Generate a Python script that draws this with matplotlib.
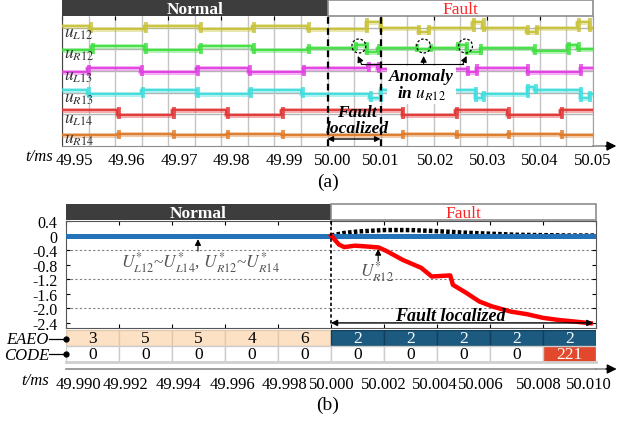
import matplotlib
matplotlib.use('Agg')
import matplotlib.pyplot as plt
import matplotlib.transforms as mtransforms
from matplotlib.patches import Rectangle, Ellipse
from matplotlib.ticker import MultipleLocator

plt.rcParams['font.family'] = ['Liberation Serif', 'DejaVu Serif']
plt.rcParams['mathtext.fontset'] = 'stix'
plt.rcParams['axes.unicode_minus'] = False

# ---------------- panel (a): sub-module voltages ----------------
ticks_a = [49.95, 49.96, 49.97, 49.98, 49.99, 50.00, 50.01, 50.02, 50.03, 50.04, 50.05]
ticklabels_a = ['49.95', '49.96', '49.97', '49.98', '49.99', '50.00',
                '50.01', '50.02', '50.03', '50.04', '50.05']
names_a = [r'$u_{L12}$', r'$u_{R12}$', r'$u_{L13}$', r'$u_{R13}$', r'$u_{L14}$', r'$u_{R14}$']
colors_a = ['#c8c23a', '#3fe03f', '#e23ee2', '#3edede', '#e23434', '#e07a28']

# step breakpoints (ms) and levels
uL12_t = [49.9500, 49.9551, 49.9655, 49.9758, 49.9858, 49.9962, 50.0072, 50.0098,
          50.0170, 50.0189, 50.0272, 50.0291, 50.0374, 50.0392, 50.0470, 50.0492]
uL12_v = [3.3, 0, 3.3, 0, 3.3, 0, 7.5, 1, -2.5, 1, 7.5, 1, -2.5, 1, 7.5, 1]
uR12_t = [49.9500, 49.9555, 49.9655, 49.9758, 49.9858, 49.9962, 50.0051, 50.0072,
          50.0094, 50.0166, 50.0192, 50.0243, 50.0260, 50.0287, 50.0387, 50.0451, 50.0470]
uR12_v = [0, 3.7, 0, 3.7, 0, 2.5, 5, -1.5, 2.5, 1.5, 2.5, 5, -1.5, 2.5, -1, 5, 1.5]
uL13_t = [49.9500, 49.9547, 49.9647, 49.9753, 49.9851, 49.9953, 50.0075, 50.0094,
          50.0262, 50.0279, 50.0375, 50.0475]
uL13_v = [0, 4, 0, 4, 0, 4, 7, 3, 0, 4.5, 0, 4.5]
uR13_t = [49.9500, 49.9547, 49.9649, 49.9753, 49.9853, 49.9951, 50.0079, 50.0098,
          50.0277, 50.0291, 50.0375, 50.0389, 50.0475, 50.0492]
uR13_v = [4, 0, 4, 0, 4, 0, -4, 4, -4, 0, 7, 4, -4, 0]
uL14_t = [49.9500, 49.9604, 49.9708, 49.9809, 49.9913, 50.0140, 50.0240, 50.0338, 50.0438]
uL14_v = [5, 0, 5, 0, 5, 0, 5, 0, 5]
uR14_t = [49.9500, 49.9604, 49.9708, 49.9809, 49.9913, 50.0140, 50.0240, 50.0338, 50.0438]
uR14_v = [0, 1.5, 0, 1.5, 0, 1.5, 0, 1.5, 0]
traces_a = [(uL12_t, uL12_v), (uR12_t, uR12_v), (uL13_t, uL13_v),
            (uR13_t, uR13_v), (uL14_t, uL14_v), (uR14_t, uR14_v)]
anomaly_t = [50.0059, 50.0181, 50.0260]

# ---------------- panel (b): normalised indices ----------------
ticks_b = [49.990, 49.992, 49.994, 49.996, 49.998, 50.000,
           50.002, 50.004, 50.006, 50.008, 50.010]
ticklabels_b = ['49.990', '49.992', '49.994', '49.996', '49.998', '50.000',
                '50.002', '50.004', '50.006', '50.008', '50.010']
yticks_b = [0.4, 0, -0.4, -0.8, -1.2, -1.6, -2.0, -2.4]
yticklabels_b = ['0.4', '0', '-0.4', '-0.8', '-1.2', '-1.6', '-2.0', '-2.4']
grid_b = [-0.4, -1.2, -2.0]

others_t = [49.990, 50.010]
others_v = [0, 0]
bump_t = [50.0000, 50.0005, 50.0010, 50.0020, 50.0030, 50.0040, 50.0050,
          50.0060, 50.0070, 50.0080, 50.0090, 50.0100]
bump_v = [0.0, 0.07, 0.11, 0.15, 0.15, 0.12, 0.08, 0.05, 0.02, 0.01, 0.0, 0.0]
ur12_t = [50.0000, 50.0003, 50.0005, 50.0009, 50.0013, 50.0018, 50.0021, 50.0027,
          50.0034, 50.0038, 50.0045, 50.0046, 50.0051, 50.0056, 50.0061, 50.0068,
          50.0074, 50.0080, 50.0086, 50.0093, 50.0098]
ur12_v = [0.0, -0.25, -0.32, -0.28, -0.30, -0.33, -0.43, -0.67, -0.89, -1.13, -1.10,
          -1.36, -1.58, -1.82, -1.96, -2.10, -2.17, -2.27, -2.33, -2.38, -2.42]

eaeo = [3, 5, 5, 4, 6, 2, 2, 2, 2, 2]
code = [0, 0, 0, 0, 0, 0, 0, 0, 0, 221]
fault_t = 50.000

W, H = 617, 427
fig = plt.figure(figsize=(W / 100, H / 100), dpi=100)


def box(x0, y0, x1, y1):
    return [x0 / W, 1 - y1 / H, (x1 - x0) / W, (y1 - y0) / H]


def shift_labels(axis, offsets):
    # the printed labels sit a little off their ticks in the source figure
    for lab, dx in zip(axis.get_xticklabels(), offsets):
        lab.set_transform(lab.get_transform() +
                          mtransforms.ScaledTranslation(dx / 100, 0, fig.dpi_scale_trans))


def header(rect, x0, x1, xm):
    hx = fig.add_axes(rect)
    hx.set_xlim(x0, x1)
    hx.set_ylim(0, 1)
    hx.axis('off')
    hx.add_patch(Rectangle((x0, 0), xm - x0, 1, facecolor='#3d3d3d', edgecolor='#3d3d3d'))
    hx.add_patch(Rectangle((xm, 0), x1 - xm, 1, facecolor='white', edgecolor='#8c8c8c',
                           lw=1.2, clip_on=False))
    hx.text((x0 + xm) / 2, 0.45, 'Normal', color='white', weight='bold',
            ha='center', va='center', fontsize=12.5)
    hx.text((xm + x1) / 2, 0.45, 'Fault', color='#ff2424',
            ha='center', va='center', fontsize=12.5)


def axis_arrow(ax, end):
    ax.plot([1, end - 0.01], [0, 0], transform=ax.transAxes, color='#8c8c8c',
            lw=1.2, clip_on=False)
    ax.annotate('', xy=(end, 0), xycoords='axes fraction', xytext=(end - 0.02, 0),
                arrowprops=dict(arrowstyle='-|>', color='k', lw=1,
                                mutation_scale=14, shrinkA=0, shrinkB=0))


# ===================== (a) =====================
ax = fig.add_axes(box(62, 17, 593, 147))
ax.set_xlim(49.95, 50.05)
ax.set_ylim(0, 130)
bases = [117, 96, 74, 52, 31, 11]
ax.xaxis.set_minor_locator(MultipleLocator(0.005))
ax.grid(True, axis='x', which='both', color='#c4c4c4', lw=1, zorder=0)
for base in bases:
    ax.axhline(base + 1.5, color='#b4b4b4', lw=1, zorder=1)

for (t, v), base, c, name in zip(traces_a, bases, colors_a, names_a):
    tt = list(t) + [50.05]
    vv = [base + x for x in v] + [base + v[-1]]
    ax.step(tt, vv, where='post', color=c, lw=3.6, alpha=0.4, zorder=3)
    ax.step(tt, vv, where='post', color=c, lw=1.3, zorder=4)
    for i in range(1, len(t)):
        lo = min(vv[i - 1], vv[i]) - 3.5
        hi = max(vv[i - 1], vv[i]) + 3.5
        ax.vlines(t[i] + 0.0003, lo, hi, color=c, lw=2.8, alpha=0.8, zorder=4)
    ax.text(0.003, base - 4.5, name, transform=ax.get_yaxis_transform(),
            fontsize=12.5, color='#333333', ha='left', va='center', zorder=6)

ax.set_xticks(ticks_a)
ax.set_xticklabels(ticklabels_a)
ax.set_yticks([])
ax.tick_params(axis='x', which='major', top=True, bottom=False, direction='in',
               length=3, labelsize=12, pad=4)
ax.tick_params(axis='x', which='minor', length=0)
shift_labels(ax, [12, 11, 11, 10, 10, 5, 0, 2, 1, 0, 0])
ax.spines['top'].set_visible(False)
ax.spines['bottom'].set_color('#8c8c8c')
ax.spines['left'].set_color('#444444')
ax.spines['right'].set_color('#a0a0a0')
axis_arrow(ax, 1.044)

for x in (50.00, 50.01):
    ax.axvline(x, color='k', lw=1.6, ls=(0, (3, 2)), zorder=7)
ax.annotate('', xy=(50.00, 7), xytext=(50.01, 7),
            arrowprops=dict(arrowstyle='<|-|>', color='k', lw=1, mutation_scale=8,
                            shrinkA=0, shrinkB=0), zorder=8)
ax.text(50.0055, 26, 'Fault\nlocalized', fontsize=12.5, weight='bold', style='italic',
        ha='center', va='center', linespacing=0.95, zorder=8)

for ta in anomaly_t:
    ax.add_patch(Ellipse((ta, 100), 0.0026, 14, fill=False, ec='k', lw=0.9,
                         ls=(0, (2, 1.5)), zorder=8))
ax.plot([50.0064, 50.0255], [82, 82], color='k', lw=0.8, zorder=8)
for tail, head in [(50.0064, 50.0057), (50.0181, 50.0181), (50.0255, 50.0262)]:
    ax.annotate('', xy=(head, 90), xytext=(tail, 82),
                arrowprops=dict(arrowstyle='-|>', color='k', lw=0.8, mutation_scale=9,
                                shrinkA=0, shrinkB=0), zorder=8)
ax.text(50.0177, 61, 'Anomaly\nin $u_{R12}$', fontsize=12.5, weight='bold',
        style='italic', ha='center', va='center', linespacing=1.0, zorder=9,
        bbox=dict(facecolor='white', edgecolor='none', pad=1.5))

header(box(62, 1, 593, 17), 49.95, 50.05, 50.00)
fig.text(53 / W, 1 - 157 / H, 't/ms', style='italic', fontsize=12, ha='right', va='center')
fig.text(328 / W, 1 - 182 / H, '(a)', fontsize=14, ha='center', va='center')

# ===================== (b) =====================
bx = fig.add_axes(box(66, 222, 596, 329))
bx.set_xlim(49.99, 50.01)
bx.set_ylim(-2.55, 0.40)
for g in grid_b:
    bx.axhline(g, color='#808080', lw=0.8, ls=(0, (2, 2)), zorder=1)
bx.plot(bump_t, bump_v, color='k', lw=3.2, ls=(0, (0.8, 0.5)), zorder=3)
bx.plot(others_t, others_v, color='#2472b8', lw=3.6, zorder=4)
bx.plot(ur12_t, ur12_v, color='#ff0000', lw=3.2, zorder=5)
bx.plot([fault_t, fault_t], [0.40, -2.46], color='k', lw=1.2, ls=(0, (2, 1.5)), zorder=6)

bx.set_xticks(ticks_b)
bx.set_xticklabels([])
bx.set_yticks(yticks_b)
bx.set_yticklabels(yticklabels_b)
bx.tick_params(axis='x', top=True, bottom=True, direction='in', length=3)
bx.tick_params(axis='y', left=True, right=True, direction='in', length=3,
               labelsize=11.5, pad=6)
for s in bx.spines.values():
    s.set_color('#555555')

bx.annotate('', xy=(49.99498, -0.10), xytext=(49.99498, -0.43),
            arrowprops=dict(arrowstyle='-|>', color='k', lw=0.8, mutation_scale=9,
                            shrinkA=0, shrinkB=0))
bx.text(49.99506, -0.73, r'$U^{*}_{L12}$~$U^{*}_{L14}$, $U^{*}_{R12}$~$U^{*}_{R14}$',
        color='#555555', fontsize=12.5, ha='center', va='center')
bx.annotate('', xy=(50.00178, -0.37), xytext=(50.00178, -0.70),
            arrowprops=dict(arrowstyle='-|>', color='k', lw=0.8, mutation_scale=9,
                            shrinkA=0, shrinkB=0))
bx.text(50.00174, -0.98, r'$U^{*}_{R12}$', color='#555555', fontsize=12.5,
        ha='center', va='center')
bx.annotate('', xy=(fault_t, -2.41), xytext=(50.0099, -2.41),
            arrowprops=dict(arrowstyle='<|-|>', color='k', lw=1, mutation_scale=9,
                            shrinkA=0, shrinkB=0), zorder=7)
bx.text(50.0045, -2.2, 'Fault localized', fontsize=13, weight='bold', style='italic',
        ha='center', va='center', zorder=7)

header(box(66, 205, 596, 221), 49.99, 50.01, fault_t)

# table rows
tb = fig.add_axes(box(66, 331, 596, 363))
tb.set_xlim(49.99, 50.01)
tb.set_ylim(0, 2)
tb.axis('off')
left = ticks_b[:-1]
fault_col = [t0 >= fault_t - 1e-9 for t0 in left]
e_fc = ['#1c5a80' if f else '#fde1c4' for f in fault_col]
e_ec = ['#123f5c' if f else '#e0c8b0' for f in fault_col]
c_fc = ['#e2492c' if c else 'white' for c in code]
tb.bar(left, 1, width=0.002, bottom=1, align='edge', color=e_fc, edgecolor=e_ec, lw=1)
tb.bar(left, 1, width=0.002, bottom=0, align='edge', color=c_fc, edgecolor='#cccccc', lw=1)
for t0, e, c, f in zip(left, eaeo, code, fault_col):
    tb.text(t0 + 0.001, 1.5, str(e), color='white' if f else 'black', fontsize=12.5,
            ha='center', va='center')
    tb.text(t0 + 0.001, 0.5, str(c), color='white' if c else 'black', fontsize=12.5,
            ha='center', va='center')
tb.plot([49.99, 50.01], [0, 0], color='#cfcfcf', lw=2, clip_on=False)

for lab, yy in (('EAEO', 340), ('CODE', 355)):
    fig.text(49 / W, 1 - (yy + 0.5) / H, lab, style='italic', fontsize=12,
             ha='right', va='center')
    fig.add_artist(plt.Line2D([49 / W, 66 / W], [1 - yy / H, 1 - yy / H],
                              color='k', lw=0.9))
    fig.add_artist(plt.Line2D([66 / W], [1 - yy / H], marker='o', ms=3.5, color='k'))

# bottom time axis of (b)
ta = fig.add_axes(box(66, 364, 596, 370))
ta.set_xlim(49.99, 50.01)
ta.set_yticks([])
ta.patch.set_alpha(0)
for k in ('top', 'left', 'right'):
    ta.spines[k].set_visible(False)
ta.spines['bottom'].set_color('#8c8c8c')
ta.spines['bottom'].set_linewidth(1.2)
ta.set_xticks(ticks_b)
ta.set_xticklabels(ticklabels_b)
ta.set_xticks([ticks_b[0], ticks_b[-1]], minor=True)
ta.tick_params(axis='x', which='major', length=0, labelsize=12, pad=5)
ta.tick_params(axis='x', which='minor', length=4, direction='in', color='#666666')
shift_labels(ta, [12, 6, 6, 7, 6, 1, 0, -2, -9, -4, -7])
axis_arrow(ta, 1.039)
fig.text(49 / W, 1 - 381 / H, 't/ms', style='italic', fontsize=12, ha='right', va='center')
fig.text(328 / W, 1 - 405 / H, '(b)', fontsize=14, ha='center', va='center')

fig.savefig('out.png', dpi=100)
